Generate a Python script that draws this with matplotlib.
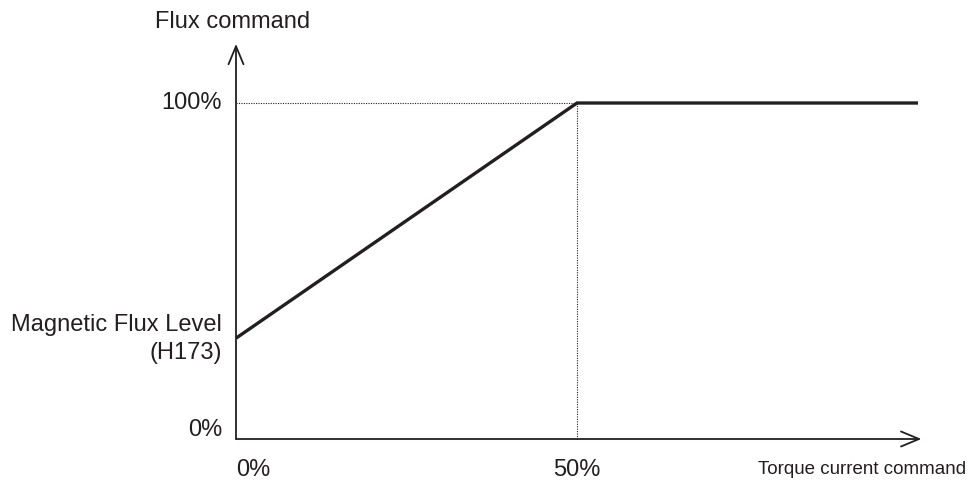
import matplotlib
matplotlib.use("Agg")
import matplotlib.pyplot as plt
from matplotlib import font_manager

# Data
torque_cmd = [0, 50, 100]          # % torque current command
flux_cmd = [30, 100, 100]          # % flux command
knee_x = 50
knee_y = 100
y_labels = ["0%", "100%"]
x_labels = ["0%", "50%"]

names = {f.name for f in font_manager.fontManager.ttflist}
narrow = "Liberation Sans Narrow" if "Liberation Sans Narrow" in names else "Liberation Sans"
narrow_size = 17 if narrow == "Liberation Sans Narrow" else 13.5

plt.rcParams['font.family'] = ['Liberation Sans', 'DejaVu Sans']
col = '#231f20'

fig = plt.figure(figsize=(9.7, 4.83), dpi=100)
ax = fig.add_axes([0, 0, 1, 1])
# pixel mapping: x0=236, 50% at 577; y0=439, 100% at 103
sx = (577 - 236) / 50.0
sy = (439 - 103) / 100.0
ax.set_xlim(-236 / sx, (970 - 236) / sx)
ax.set_ylim((439 - 483) / sy, 439 / sy)
ax.axis('off')

# axes with arrows
ap = dict(arrowstyle='->,head_length=0.65,head_width=0.27', color=col, lw=1.3,
          mutation_scale=20, shrinkA=0, shrinkB=0)
ax.annotate('', xy=(100.5, 0), xytext=(0, 0), arrowprops=ap)
ax.annotate('', xy=(0, 117.6), xytext=(0, 0), arrowprops=ap)

# dotted guides
ax.plot([0, knee_x], [knee_y, knee_y], ls=(0, (1, 1.2)), lw=0.8, color=col)
ax.plot([knee_x, knee_x], [0, knee_y], ls=(0, (1, 1.2)), lw=0.8, color=col)

# flux curve
ax.plot(torque_cmd, flux_cmd, color=col, lw=2.4, solid_capstyle='butt', solid_joinstyle='miter')

fs = 17
# y labels
ax.text(-14 / sx, 100, y_labels[1], ha='right', va='center', fontsize=fs, color=col)
ax.text(-14 / sx, (439 - 430) / sy, y_labels[0], ha='right', va='center', fontsize=fs, color=col)
ax.text(-14 / sx, (439 - 325) / sy, "Magnetic Flux Level", ha='right', va='center', fontsize=fs, color=col)
ax.text(-14 / sx, (439 - 353) / sy, "(H173)", ha='right', va='center', fontsize=fs, color=col)
ax.text(-3 / sx, (439 - 22) / sy, "Flux command", ha='center', va='center', fontsize=fs, color=col)

# x labels
ylab = (439 - 470) / sy
ax.text(0, ylab, x_labels[0], ha='left', va='center', fontsize=fs, color=col)
ax.text(knee_x, ylab, x_labels[1], ha='center', va='center', fontsize=fs, color=col)
ax.text((966 - 236) / sx, ylab, "Torque current command", ha='right', va='center',
        fontsize=narrow_size, color=col, family=narrow)

fig.savefig("out.png", dpi=100)
